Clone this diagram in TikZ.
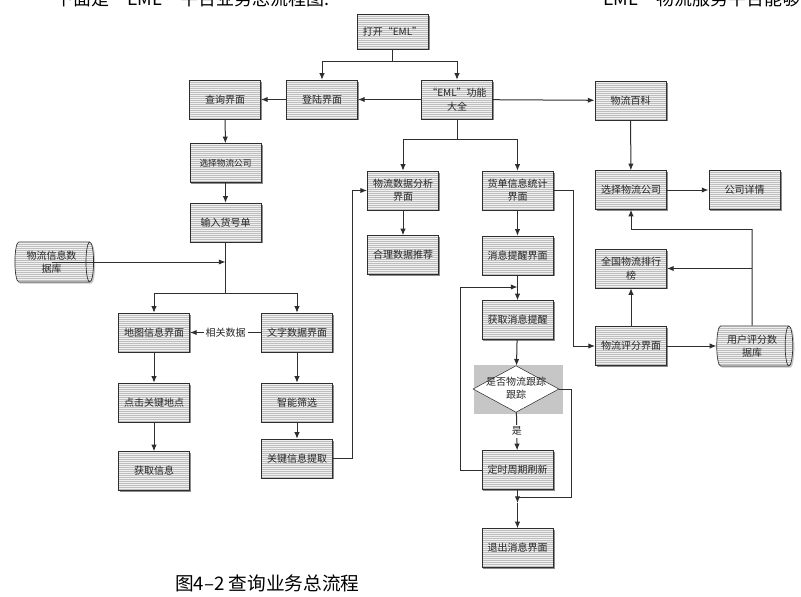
\documentclass[tikz,border=0pt]{standalone}
\usepackage{fontspec}
\newfontfamily\cjk{Noto Sans CJK SC}
\usetikzlibrary{shapes.geometric,shadows,arrows.meta}
\definecolor{lc}{HTML}{2E2E2E}
\definecolor{bfill}{HTML}{F0F0F0}
\definecolor{stripe}{HTML}{BEBEBE}
\definecolor{shd}{HTML}{8C8C8C}
\definecolor{dgray}{HTML}{C6C6C6}
\tikzset{
 stripes/.style={path picture={\foreach \k in {1,...,26}{\draw[stripe,line width=0.35pt] ([yshift=-\k*1.5pt]path picture bounding box.north west) -- ([yshift=-\k*1.5pt]path picture bounding box.north east);}}},
 boxfont/.style={font=\cjk\fontsize{7.5}{10}\selectfont},
 box/.style={rectangle, draw=lc, line width=0.5pt, fill=bfill, stripes, minimum width=53.5pt, minimum height=29pt, inner sep=1pt, align=center, boxfont, text=black!85, drop shadow={shadow xshift=1.2pt, shadow yshift=-1.2pt, fill=shd, opacity=1}},
 dbshape/.style={cylinder, draw=lc, line width=0.5pt, fill=bfill, stripes, shape aspect=0.3, minimum height=59pt, minimum width=30pt, inner sep=1pt, align=center, boxfont, text=black!85, drop shadow={shadow xshift=1.2pt, shadow yshift=-1.2pt, fill=dgray, opacity=1}},
 arr/.style={draw=lc, line width=0.75pt, -{Latex[length=5pt,width=4pt]}},
 ln/.style={draw=lc, line width=0.75pt},
 bigtxt/.style={font=\cjk\fontsize{13.5}{16}\selectfont, inner sep=0pt},
}
\begin{document}
\begin{tikzpicture}[x=0.75pt,y=-0.75pt]
\useasboundingbox (0,0) rectangle (801,597);
\fill[white] (0,0) rectangle (801,597);
\clip (0,0) rectangle (801,597);

% top clipped text (cut off at the top edge, as in the reference)
\node[bigtxt, anchor=base west] (topL) at (55,5) {下面是“EML”平台业务总流程图:};
\node[bigtxt, anchor=base west] (topR) at (585,5) {“EML”物流服务平台能够};

% nodes
\node[box, minimum height=26pt] (open) at (392.5,31.5) {打开“EML”};
\node[box] (login) at (322,99.5) {登陆界面};
\node[box] (eml) at (457,99.5) {“EML”功能\\大全};
\node[box] (query) at (225,99.5) {查询界面};
\node[box] (baike) at (630.5,100.5) {物流百科};
\node[box, font=\cjk\fontsize{6.5}{9}\selectfont] (selL) at (225.5,163) {选择物流公司};
\node[box] (input) at (225.5,222.5) {输入货号单};
\node[dbshape] (infodb) at (51.5,262) {物流信息数\\据库};
\node[box] (map) at (154,332.5) {地图信息界面};
\node[box] (textui) at (297,332.5) {文字数据界面};
\node[box] (click) at (154,402.5) {点击关键地点};
\node[box] (getinfo) at (154,471) {获取信息};
\node[box] (filter) at (297,402.5) {智能筛选};
\node[box] (key) at (297,458.5) {关键信息提取};
\node[box] (analysis) at (403,190.5) {物流数据分析\\界面};
\node[box] (recommend) at (403,255) {合理数据推荐};
\node[box] (bill) at (517.5,190.5) {货单信息统计\\界面};
\node[box] (remind) at (517.5,255.5) {消息提醒界面};
\node[box] (getremind) at (517.5,320) {获取消息提醒};
\node[rectangle, fill=dgray, minimum width=66.75pt, minimum height=36.75pt, inner sep=0pt] (dmbg) at (518.5,389.5) {};
\node[diamond, draw=lc, line width=0.4pt, fill=white, minimum width=64.5pt, minimum height=35pt, inner sep=0pt] (dm) at (516,389) {};
\node[boxfont, align=center, inner sep=0pt, text=black!85] (dmt) at (516,388) {是否物流跟踪\\跟踪};
\node[box] (timer) at (517.5,470) {定时周期刷新};
\node[box] (quit) at (517.5,548) {退出消息界面};
\node[box] (selR) at (631,190) {选择物流公司};
\node[box] (detail) at (744.5,190) {公司详情};
\node[box] (rank) at (631,268.5) {全国物流排行\\榜};
\node[box] (rating) at (631,346) {物流评分界面};
\node[dbshape, minimum height=57pt] (userdb) at (752,346) {用户评分数\\据库};

% caption
\node[font=\cjk\fontsize{14}{16}\selectfont, anchor=west, inner sep=0pt] (cap) at (175,583) {图4–2 查询业务总流程};

% coordinates
\coordinate (j1) at (392.5,61);
\coordinate (j2) at (457,139);
\coordinate (j3) at (225.5,293);
\coordinate (j4) at (225.5,262);
\coordinate (k1) at (352.5,458.5);
\coordinate (lp) at (460,287);
\coordinate (lpend) at (517.5,287);
\coordinate (m1) at (517.5,503);
\coordinate (m0) at (517.5,497);
\coordinate (r1) at (571,497);
\coordinate (b1) at (573,346);
\coordinate (d1) at (752,229);
\coordinate (d2) at (752,268.5);

% connectors
\draw[ln] (open) -- (j1);
\draw[arr] (j1) -| (login);
\draw[arr] (j1) -| (eml);
\draw[arr] (eml) -- (login);
\draw[arr] (login) -- (query);
\draw[arr] (eml) -- (baike);
\draw[ln] (eml) -- (j2);
\draw[arr] (j2) -| (analysis);
\draw[arr] (j2) -| (bill);
\draw[arr] (query) -- (selL);
\draw[arr] (selL) -- (input);
\draw[ln] (input) -- (j3);
\draw[arr] (infodb.center) -- (j4);
\draw[arr] (j3) -| (map);
\draw[arr] (j3) -| (textui);
\draw[arr] (textui) -- node[fill=white, inner sep=1.5pt, boxfont, text=black!85] (rel) {相关数据} (map);
\draw[arr] (map) -- (click);
\draw[arr] (click) -- (getinfo);
\draw[arr] (textui) -- (filter);
\draw[arr] (filter) -- (key);
\draw[arr] (key.east) -- (k1) |- (analysis.west);
\draw[arr] (analysis) -- (recommend);
\draw[arr] (bill) -- (remind);
\draw[arr] (remind) -- (getremind);
\draw[arr] (getremind) -- (dm);
\draw[arr] (dm) -- node[fill=white, inner sep=1.5pt, boxfont, text=black!85] (yes) {是} (timer);
\draw[arr] (timer.west) -| (lp) -- (lpend);
\draw[ln] (dm.east) -| (r1) -- (m0);
\draw[arr] (timer) -- (m1);
\draw[arr] (m1) -- (quit);
\draw[arr] (bill.east) -| (b1) -- (rating.west);
\draw[arr] (baike) -- (selR);
\draw[arr] (selR) -- (detail);
\draw[arr] (rating) -- (rank);
\draw[arr] (rating) -- (userdb);
\draw[ln] (userdb.north) -- (d1);
\draw[arr] (d1) -| (selR);
\draw[arr] (d2) -- (rank);
\end{tikzpicture}
\end{document}
